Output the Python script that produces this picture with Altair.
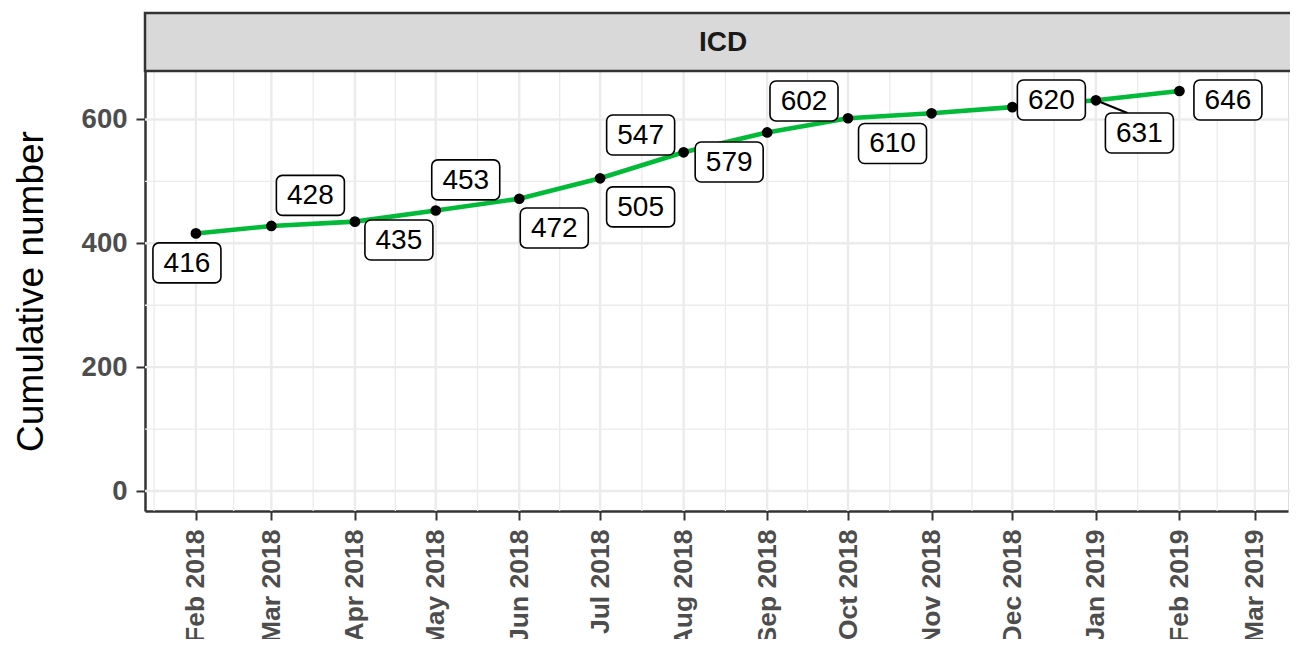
import altair as alt
import pandas as pd

# ---------------- data ----------------
months = ["2018-02-01", "2018-03-01", "2018-04-01", "2018-05-01", "2018-06-01",
          "2018-07-01", "2018-08-01", "2018-09-01", "2018-10-01", "2018-11-01",
          "2018-12-01", "2019-01-01", "2019-02-01"]
cumulative = [416, 428, 435, 453, 472, 505, 547, 579, 602, 610, 620, 631, 646]
tick_months = ["2018-02-01", "2018-03-01", "2018-04-01", "2018-05-01", "2018-06-01",
               "2018-07-01", "2018-08-01", "2018-09-01", "2018-10-01", "2018-11-01",
               "2018-12-01", "2019-01-01", "2019-02-01", "2019-03-01"]
grid_months = ["2018-01-01"] + tick_months + ["2019-04-01"]
y_major = [0, 200, 400, 600]
y_minor = [100, 300, 500]
panel_title = "ICD"
y_title = "Cumulative number"

# ---------------- layout (pixels) ----------------
W = 1143          # plot width
H = 498           # strip + panel height
STRIP_H = 58
PX_PER_DAY = 983.5 / 365.0
LEFT_DAYS = 18.9  # days before first month shown at left edge
Y_PANEL = (-32.3, 678.3)
PANEL_H = H - STRIP_H
# repelled label offsets from their point (px, right / down)
label_dx = [-9, 39, 44, 30, 35, 40.5, -43, -38, -44, -39, 39, 43.5, 48.5]
label_dy = [29.5, -30.6, 18.3, -30.6, 29.2, 28.6, -17.3, 29.5, -17.3, 30.2, -7.1, 32.7, 9]
seg_end = [None] * 11 + [(31.5, 12.7)] + [None]
BOX_W, BOX_H = 68, 40
FONT = "Liberation Sans"

DAY = 86400000.0


def ms(s):
    return int(pd.Timestamp(s, tz="UTC").value // 10**6)


x0 = ms(months[0]) - LEFT_DAYS * DAY
x1 = x0 + W / PX_PER_DAY * DAY
ms_per_px = (x1 - x0) / W
upp = (Y_PANEL[1] - Y_PANEL[0]) / PANEL_H
y0 = Y_PANEL[0]
y1 = Y_PANEL[1] + STRIP_H * upp

rows = []
for m, v, dx, dy, se in zip(months, cumulative, label_dx, label_dy, seg_end):
    t = ms(m)
    lt = t + dx * ms_per_px
    lv = v - dy * upp
    r = dict(t=t, value=v, label=str(v), lt=lt, lv=lv,
             bx1=lt - BOX_W / 2 * ms_per_px, bx2=lt + BOX_W / 2 * ms_per_px,
             by1=lv - BOX_H / 2 * upp, by2=lv + BOX_H / 2 * upp,
             has_seg=se is not None,
             st=t + (se[0] if se else 0) * ms_per_px,
             sv=v - (se[1] if se else 0) * upp)
    rows.append(r)
df = pd.DataFrame(rows)

gm = [ms(m) for m in grid_months]
minor_x = [(a + b) / 2 for a, b in zip(gm[:-1], gm[1:])]
major_x = [ms(m) for m in tick_months]
gx = pd.DataFrame({"t": major_x + minor_x,
                   "kind": ["major"] * len(major_x) + ["minor"] * len(minor_x)})
gx = gx[(gx.t > x0) & (gx.t < x1)]
gy = pd.DataFrame({"v": y_major + y_minor,
                   "kind": ["major"] * len(y_major) + ["minor"] * len(y_minor)})

xscale = alt.Scale(type="utc", domain=[x0, x1], nice=False)
yscale = alt.Scale(domain=[y0, y1], nice=False, zero=False)

x_axis = alt.Axis(values=[ms(m) for m in tick_months],
                  labelExpr="utcFormat(datum.value, '%b %Y')",
                  labelAngle=270, labelFont=FONT, labelFontSize=26.5, labelFontWeight="bold",
                  labelColor="#4D4D4D", labelPadding=9, tickSize=9, tickWidth=2,
                  tickColor="#333333", domainColor="#333333", domainWidth=2.5,
                  grid=False, title=None, labelOverlap=False, labelBound=False, labelFlush=False)
y_axis = alt.Axis(values=y_major, labelFont=FONT, labelFontSize=27.5, labelFontWeight="bold",
                  labelColor="#4D4D4D", labelPadding=9, tickSize=9, tickWidth=2,
                  tickColor="#333333", domainColor="#333333", domainWidth=2.5,
                  grid=False, title=y_title, titleFont=FONT, titleFontSize=37,
                  titleFontWeight="normal", titleColor="#000000", titlePadding=31,
                  titleY=STRIP_H + PANEL_H / 2,
                  labelOverlap=False, labelFlush=False)

# the axes live on these two layers only
axis_x_layer = alt.Chart(gx).mark_rule(opacity=0).encode(
    x=alt.X("t:T", scale=xscale, axis=x_axis))
axis_y_layer = alt.Chart(gy).mark_rule(opacity=0).encode(
    y=alt.Y("v:Q", scale=yscale, axis=y_axis))

grid_x = alt.Chart(gx).mark_rule(color="#EBEBEB", clip=True).encode(
    x=alt.X("t:T", scale=xscale),
    y=alt.value(STRIP_H), y2=alt.value(H),
    strokeWidth=alt.condition(alt.datum.kind == "major", alt.value(2.4), alt.value(1.3)),
)
grid_y = alt.Chart(gy).mark_rule(color="#EBEBEB").encode(
    y=alt.Y("v:Q", scale=yscale),
    x=alt.value(0), x2=alt.value(W + 20),
    strokeWidth=alt.condition(alt.datum.kind == "major", alt.value(2.4), alt.value(1.3)),
)

base = alt.Chart(df)
line = base.mark_line(color="#00BA38", strokeWidth=4.6).encode(
    x=alt.X("t:T", scale=xscale),
    y=alt.Y("value:Q", scale=yscale),
)
pts = base.mark_circle(color="black", size=115, opacity=1).encode(
    x=alt.X("t:T", scale=xscale),
    y=alt.Y("value:Q", scale=yscale),
)
segs = base.transform_filter(alt.datum.has_seg).mark_rule(color="black", strokeWidth=2).encode(
    x=alt.X("t:T", scale=xscale),
    y=alt.Y("value:Q", scale=yscale),
    x2="st:T", y2="sv:Q",
)
boxes = base.mark_rect(fill="white", stroke="black", strokeWidth=1.6, cornerRadius=6).encode(
    x=alt.X("bx1:T", scale=xscale), x2="bx2:T",
    y=alt.Y("by1:Q", scale=yscale), y2="by2:Q",
)
texts = base.mark_text(font=FONT, fontSize=28, color="black", baseline="middle",
                       align="center", dy=1).encode(
    x=alt.X("lt:T", scale=xscale),
    y=alt.Y("lv:Q", scale=yscale),
    text="label:N",
)

strip_df = pd.DataFrame({"title": [panel_title]})
strip = alt.Chart(strip_df).mark_rect(fill="#D9D9D9", stroke="#333333", strokeWidth=2.5).encode(
    x=alt.value(0), x2=alt.value(W + 30), y=alt.value(0), y2=alt.value(STRIP_H),
)
strip_text = alt.Chart(strip_df).mark_text(font=FONT, fontSize=28, fontWeight="bold",
                                           color="#1A1A1A", baseline="middle", align="center").encode(
    x=alt.value(578), y=alt.value(STRIP_H / 2 + 1), text="title:N",
)

chart = alt.layer(axis_x_layer, axis_y_layer, grid_x, grid_y, line, pts, segs, boxes, texts,
                  strip, strip_text).properties(
    width=W, height=H,
    autosize=alt.AutoSizeParams(type="none"),
    padding={"left": 137, "top": 5, "right": 2, "bottom": 128},
).configure_view(strokeWidth=0).configure(background="white")

chart.save("out.html", embed_options={"renderer": "svg", "actions": False})
